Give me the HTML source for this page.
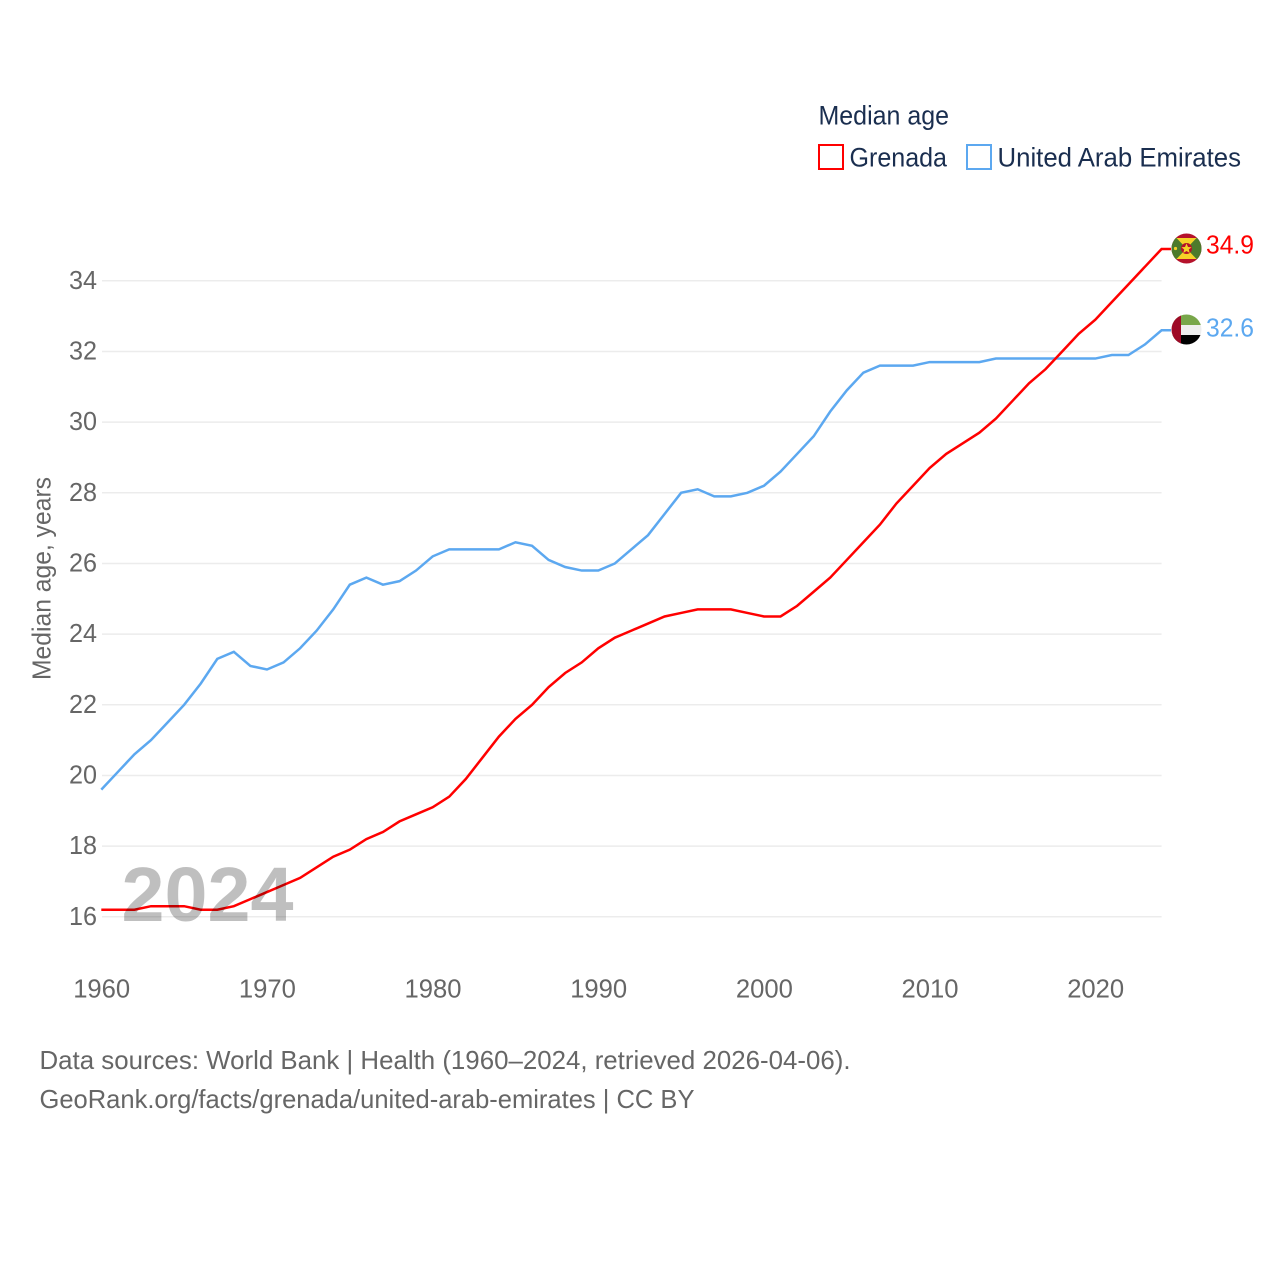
<!DOCTYPE html>
<html lang="en">
<head>
<meta charset="utf-8">
<title>Median age: Grenada and United Arab Emirates</title>
<style>
html,body{margin:0;padding:0;background:#fff}
svg{display:block}
text{font-family:"Liberation Sans",sans-serif}
</style>
</head>
<body>
<svg id="chart" xmlns="http://www.w3.org/2000/svg" width="1280" height="1280" viewBox="0 0 1280 1280">
  <defs>
    <clipPath id="clip-gd"><circle cx="1186.5" cy="248.5" r="15"/></clipPath>
    <clipPath id="clip-ae"><circle cx="1186.5" cy="329.5" r="15"/></clipPath>
  </defs>
  <rect width="1280" height="1280" fill="#fff"/>

  <g>
    <text x="818.5" y="124.5" font-size="27" fill="#1a2e4f" textLength="130.5" lengthAdjust="spacingAndGlyphs">Median age</text>
    <g>
      <rect x="819" y="145" width="24" height="24" fill="none" stroke="#ff0000" stroke-width="2"/>
      <text x="849.5" y="166.5" font-size="27" fill="#1a2e4f" textLength="97.5" lengthAdjust="spacingAndGlyphs">Grenada</text>
    </g>
    <g>
      <rect x="967" y="145" width="24" height="24" fill="none" stroke="#5ca8f0" stroke-width="2"/>
      <text x="997.5" y="166.5" font-size="27" fill="#1a2e4f" textLength="243.5" lengthAdjust="spacingAndGlyphs">United Arab Emirates</text>
    </g>
  </g>

  <g id="grid"></g>
  <g id="y-ticks"></g>
  <g id="x-ticks"></g>
  <text transform="translate(50.5,680) rotate(-90)" font-size="26" fill="#666" textLength="203" lengthAdjust="spacingAndGlyphs">Median age, years</text>

  <g id="series"></g>

  <text x="121.5" y="921" font-size="77" font-weight="bold" fill="#000" fill-opacity="0.25" textLength="172" lengthAdjust="spacingAndGlyphs">2024</text>

  <g clip-path="url(#clip-gd)">
    <rect x="1171" y="233" width="31" height="31" fill="#b5122b"/>
    <rect x="1176.5" y="238" width="20" height="21" fill="#f5d327"/>
    <polygon points="1171,238 1176.5,238 1186.5,248.5 1176.5,259 1171,259" fill="#4c7a2c"/>
    <polygon points="1202,238 1196.5,238 1186.5,248.5 1196.5,259 1202,259" fill="#4c7a2c"/>
    <circle cx="1186.5" cy="248.5" r="5.5" fill="#b5122b"/>
    <polygon points="1186.5,243.5 1188,247 1191.5,247.3 1188.8,249.5 1189.7,253 1186.5,251 1183.3,253 1184.2,249.5 1181.5,247.3 1185,247" fill="#f5d327"/>
    <circle cx="1175.5" cy="248.5" r="1.6" fill="#f5d327"/>
  </g>
  <text x="1206" y="253.5" font-size="26" fill="#ff0000" textLength="48" lengthAdjust="spacingAndGlyphs">34.9</text>

  <g clip-path="url(#clip-ae)">
    <rect x="1171" y="314" width="31" height="11" fill="#78a64a"/>
    <rect x="1171" y="325" width="31" height="10" fill="#eeeeee"/>
    <rect x="1171" y="335" width="31" height="10" fill="#000"/>
    <rect x="1171" y="314" width="10" height="31" fill="#9e0a26"/>
  </g>
  <text x="1206" y="336.5" font-size="26" fill="#5ca8f0" textLength="48" lengthAdjust="spacingAndGlyphs">32.6</text>

  <g>
    <text x="39.5" y="1069" font-size="26" fill="#666" textLength="811" lengthAdjust="spacingAndGlyphs">Data sources: World Bank | Health (1960–2024, retrieved 2026-04-06).</text>
    <text x="39.5" y="1108" font-size="26" fill="#666" textLength="655" lengthAdjust="spacingAndGlyphs">GeoRank.org/facts/grenada/united-arab-emirates | CC BY</text>
  </g>
</svg>
<script>
var years = [1960,1961,1962,1963,1964,1965,1966,1967,1968,1969,1970,1971,1972,1973,1974,1975,1976,1977,1978,1979,1980,1981,1982,1983,1984,1985,1986,1987,1988,1989,1990,1991,1992,1993,1994,1995,1996,1997,1998,1999,2000,2001,2002,2003,2004,2005,2006,2007,2008,2009,2010,2011,2012,2013,2014,2015,2016,2017,2018,2019,2020,2021,2022,2023,2024];
var grenadaValues = [16.2,16.2,16.2,16.3,16.3,16.3,16.2,16.2,16.3,16.5,16.7,16.9,17.1,17.4,17.7,17.9,18.2,18.4,18.7,18.9,19.1,19.4,19.9,20.5,21.1,21.6,22.0,22.5,22.9,23.2,23.6,23.9,24.1,24.3,24.5,24.6,24.7,24.7,24.7,24.6,24.5,24.5,24.8,25.2,25.6,26.1,26.6,27.1,27.7,28.2,28.7,29.1,29.4,29.7,30.1,30.6,31.1,31.5,32.0,32.5,32.9,33.4,33.9,34.4,34.9];
var uaeValues = [19.6,20.1,20.6,21.0,21.5,22.0,22.6,23.3,23.5,23.1,23.0,23.2,23.6,24.1,24.7,25.4,25.6,25.4,25.5,25.8,26.2,26.4,26.4,26.4,26.4,26.6,26.5,26.1,25.9,25.8,25.8,26.0,26.4,26.8,27.4,28.0,28.1,27.9,27.9,28.0,28.2,28.6,29.1,29.6,30.3,30.9,31.4,31.6,31.6,31.6,31.7,31.7,31.7,31.7,31.8,31.8,31.8,31.8,31.8,31.8,31.8,31.9,31.9,32.2,32.6];
var yTickValues = [16,18,20,22,24,26,28,30,32,34];
var xTickValues = [1960,1970,1980,1990,2000,2010,2020];

var NS = 'http://www.w3.org/2000/svg';
function xScale(year){ return 101.3 + (year - 1960) * 16.5667; }
function yScale(value){ return 916.8 - (value - 16) * 35.333; }

var gridGroup = document.getElementById('grid');
var yTickGroup = document.getElementById('y-ticks');
var xTickGroup = document.getElementById('x-ticks');
var seriesGroup = document.getElementById('series');

yTickValues.forEach(function(v){
  var line = document.createElementNS(NS, 'line');
  
  
  line.setAttribute('x1', 102);
  line.setAttribute('x2', xScale(2024));
  line.setAttribute('y1', yScale(v));
  line.setAttribute('y2', yScale(v));
  line.setAttribute('stroke', '#ececec');
  line.setAttribute('stroke-width', '1.5');
  gridGroup.appendChild(line);

  var label = document.createElementNS(NS, 'text');
  
  
  label.setAttribute('x', 97);
  label.setAttribute('y', yScale(v) + 8);
  label.setAttribute('text-anchor', 'end');
  label.setAttribute('font-size', '26');
  label.setAttribute('fill', '#666');
  label.setAttribute('textLength', '28');
  label.setAttribute('lengthAdjust', 'spacingAndGlyphs');
  label.textContent = String(v);
  yTickGroup.appendChild(label);
});

xTickValues.forEach(function(t){
  var label = document.createElementNS(NS, 'text');
  
  
  label.setAttribute('x', xScale(t) + 0.4);
  label.setAttribute('y', 997.5);
  label.setAttribute('text-anchor', 'middle');
  label.setAttribute('font-size', '26');
  label.setAttribute('fill', '#666');
  label.setAttribute('textLength', '57');
  label.setAttribute('lengthAdjust', 'spacingAndGlyphs');
  label.textContent = String(t);
  xTickGroup.appendChild(label);
});

function linePoints(values){
  var pts = values.map(function(v, i){
    return xScale(years[i]).toFixed(2) + ',' + yScale(v).toFixed(2);
  });
  pts.push('1171,' + yScale(values[values.length - 1]).toFixed(2));
  return pts.join(' ');
}

var uaeLine = document.createElementNS(NS, 'polyline');


uaeLine.setAttribute('points', linePoints(uaeValues));
uaeLine.setAttribute('fill', 'none');
uaeLine.setAttribute('stroke', '#5ca8f0');
uaeLine.setAttribute('stroke-width', '2.5');
seriesGroup.appendChild(uaeLine);

var grenadaLine = document.createElementNS(NS, 'polyline');


grenadaLine.setAttribute('points', linePoints(grenadaValues));
grenadaLine.setAttribute('fill', 'none');
grenadaLine.setAttribute('stroke', '#ff0000');
grenadaLine.setAttribute('stroke-width', '2.5');
seriesGroup.appendChild(grenadaLine);
</script>
</body>
</html>
